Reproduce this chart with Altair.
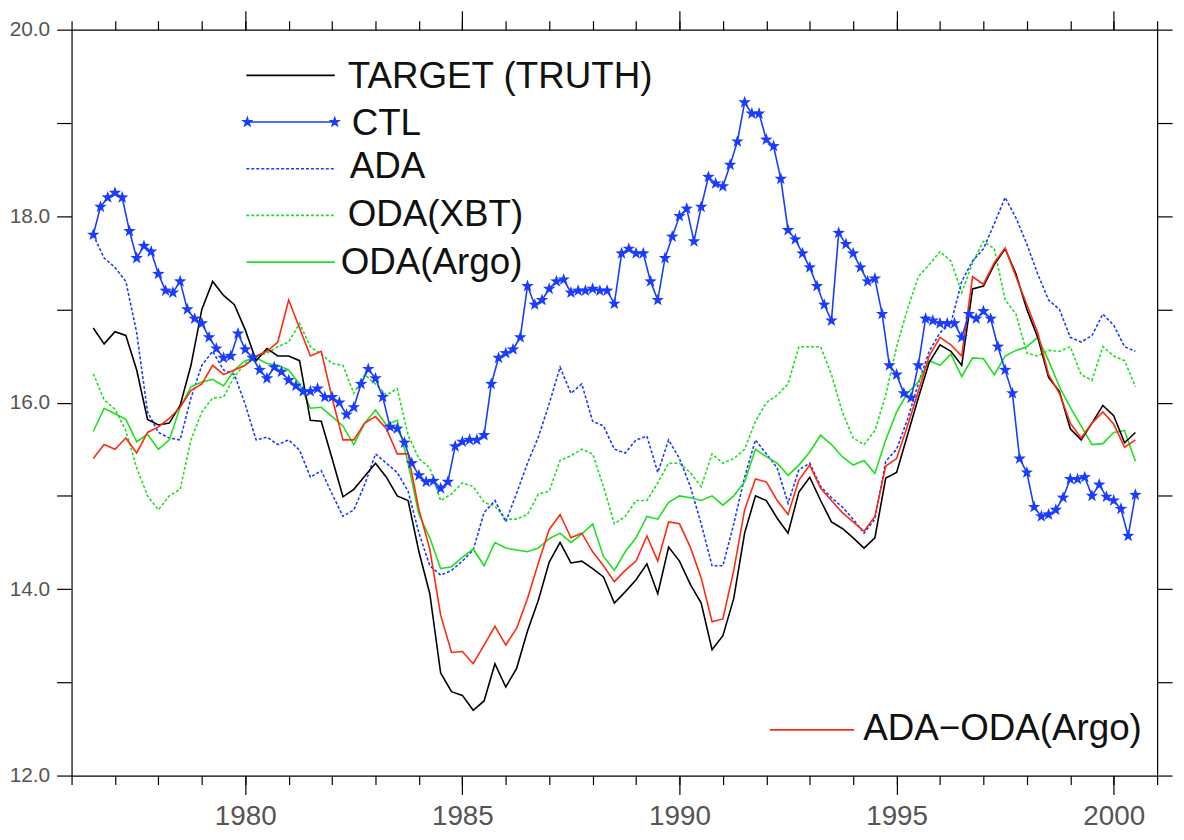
import altair as alt
import pandas as pd

# ---------------- data ----------------
START = 1976.5
quarter_times = [START + 0.25 * i for i in range(97)]   # quarterly grid 1976.5 .. 2000.5
ctl_times = [START + i / 6 for i in range(145)]          # two-monthly grid for CTL

target_truth = [
    16.80, 16.63, 16.76, 16.72, 16.35, 15.82, 15.76, 15.78, 15.97, 16.40,
    17.00, 17.30, 17.15, 17.05, 16.78, 16.45, 16.58, 16.50, 16.50, 16.45,
    15.81, 15.80, 15.40, 14.99, 15.07, 15.21, 15.35, 15.20, 15.00, 14.95,
    14.40, 13.95, 13.10, 12.90, 12.86, 12.70, 12.80, 13.20, 12.95, 13.15,
    13.55, 13.88, 14.29, 14.50, 14.28, 14.30, 14.22, 14.13, 13.85, 13.97,
    14.10, 14.27, 13.95, 14.45, 14.30, 14.05, 13.85, 13.35, 13.50, 13.90,
    14.60, 15.00, 14.95, 14.76, 14.60, 15.04, 15.20, 14.95, 14.72, 14.65,
    14.55, 14.44, 14.55, 15.19, 15.25, 15.65, 16.05, 16.43, 16.62, 16.55,
    16.40, 17.22, 17.25, 17.48, 17.65, 17.38, 17.00, 16.70, 16.27, 16.12,
    15.72, 15.60, 15.78, 15.97, 15.86, 15.57, 15.68,
]

ada = [
    17.80, 17.55, 17.45, 17.30, 16.75, 15.90, 15.68, 15.62, 15.60, 16.05,
    16.40, 16.55, 16.35, 16.30, 15.98, 15.60, 15.63, 15.55, 15.60, 15.49,
    15.20, 15.27, 15.02, 14.78, 14.85, 15.12, 15.45, 15.35, 15.25, 15.05,
    14.60, 14.25, 14.15, 14.20, 14.30, 14.42, 14.82, 14.95, 14.72, 15.03,
    15.35, 15.63, 15.99, 16.38, 16.10, 16.20, 15.80, 15.75, 15.50, 15.46,
    15.60, 15.64, 15.25, 15.60, 15.40, 15.10, 14.70, 14.25, 14.25, 14.70,
    15.20, 15.60, 15.45, 15.30, 14.92, 15.28, 15.35, 15.10, 14.98, 14.88,
    14.75, 14.60, 14.75, 15.37, 15.50, 15.82, 16.20, 16.55, 16.75, 16.85,
    17.30, 17.52, 17.65, 17.92, 18.20, 17.98, 17.70, 17.38, 17.10, 17.00,
    16.70, 16.65, 16.72, 16.95, 16.83, 16.60, 16.55,
]

oda_xbt = [
    16.31, 16.03, 15.93, 15.70, 15.30, 15.00, 14.85, 15.00, 15.07, 15.60,
    15.90, 16.05, 16.06, 16.28, 16.42, 16.50, 16.53, 16.60, 16.65, 16.85,
    16.60, 16.52, 16.42, 16.40, 16.10, 16.30, 16.20, 16.08, 16.15, 15.65,
    15.40, 15.30, 14.95, 15.02, 15.14, 15.10, 14.93, 14.89, 14.75, 14.75,
    14.80, 15.02, 15.05, 15.38, 15.43, 15.50, 15.45, 15.10, 14.70, 14.78,
    14.95, 14.95, 15.14, 15.35, 15.35, 15.25, 15.10, 15.45, 15.35, 15.40,
    15.50, 15.80, 16.00, 16.08, 16.20, 16.60, 16.60, 16.60, 16.30, 15.90,
    15.62, 15.55, 15.70, 16.08, 16.60, 17.00, 17.35, 17.48, 17.62, 17.52,
    17.18, 17.50, 17.73, 17.65, 17.10, 16.95, 16.53, 16.50, 16.56, 16.55,
    16.60, 16.30, 16.24, 16.60, 16.50, 16.45, 16.17,
]

oda_argo = [
    15.69, 15.94, 15.88, 15.82, 15.58, 15.66, 15.50, 15.60, 15.95, 16.17,
    16.22, 16.25, 16.18, 16.35, 16.45, 16.48, 16.42, 16.40, 16.35, 16.20,
    15.94, 15.95, 15.85, 15.75, 15.55, 15.78, 15.92, 15.76, 15.81, 15.35,
    14.80, 14.55, 14.22, 14.24, 14.34, 14.43, 14.25, 14.50, 14.44, 14.42,
    14.40, 14.44, 14.54, 14.60, 14.50, 14.59, 14.70, 14.35, 14.20, 14.40,
    14.55, 14.78, 14.75, 14.93, 15.00, 14.98, 14.95, 15.00, 14.90, 15.00,
    15.15, 15.50, 15.42, 15.35, 15.22, 15.33, 15.47, 15.65, 15.55, 15.42,
    15.33, 15.38, 15.24, 15.60, 15.90, 16.10, 16.22, 16.45, 16.40, 16.52,
    16.28, 16.48, 16.47, 16.30, 16.50, 16.56, 16.60, 16.70, 16.45, 16.17,
    15.95, 15.75, 15.55, 15.56, 15.68, 15.70, 15.37,
]

ada_oda_argo = [
    15.40, 15.55, 15.50, 15.62, 15.46, 15.68, 15.74, 15.83, 15.95, 16.13,
    16.20, 16.40, 16.30, 16.35, 16.40, 16.50, 16.55, 16.65, 17.10, 16.80,
    16.50, 16.55, 16.05, 15.60, 15.60, 15.78, 15.85, 15.72, 15.45, 15.45,
    14.85, 14.43, 13.72, 13.32, 13.33, 13.20, 13.40, 13.60, 13.40, 13.58,
    13.90, 14.28, 14.64, 14.80, 14.55, 14.60, 14.40, 14.25, 14.08, 14.20,
    14.30, 14.57, 14.30, 14.72, 14.70, 14.45, 14.12, 13.65, 13.68, 14.20,
    14.85, 15.18, 15.15, 14.95, 14.80, 15.17, 15.33, 15.08, 14.95, 14.82,
    14.72, 14.62, 14.78, 15.32, 15.40, 15.75, 16.12, 16.50, 16.70, 16.62,
    16.50, 17.35, 17.27, 17.50, 17.66, 17.35, 17.05, 16.75, 16.30, 16.10,
    15.78, 15.62, 15.78, 15.90, 15.77, 15.52, 15.60,
]

ctl = [
    17.80, 18.10, 18.20, 18.25, 18.20, 17.84, 17.55, 17.68, 17.62, 17.38,
    17.20, 17.18, 17.30, 17.00, 16.90, 16.85, 16.70, 16.58, 16.48, 16.50,
    16.74, 16.57, 16.48, 16.35, 16.26, 16.38, 16.33, 16.24, 16.18, 16.12,
    16.12, 16.15, 16.06, 16.06, 16.00, 15.87, 15.95, 16.20, 16.36, 16.26,
    16.06, 15.74, 15.72, 15.57, 15.35, 15.22, 15.15, 15.16, 15.08, 15.15,
    15.53, 15.58, 15.60, 15.60, 15.65, 16.20, 16.48, 16.53, 16.57, 16.70,
    17.25, 17.05, 17.10, 17.22, 17.30, 17.32, 17.18, 17.20, 17.20, 17.22,
    17.20, 17.20, 17.06, 17.60, 17.65, 17.60, 17.60, 17.30, 17.10, 17.55,
    17.78, 18.00, 18.08, 17.73, 18.10, 18.42, 18.35, 18.32, 18.55, 18.80,
    19.22, 19.10, 19.10, 18.82, 18.75, 18.40, 17.85, 17.75, 17.60, 17.45,
    17.25, 17.05, 16.88, 17.82, 17.70, 17.60, 17.45, 17.30, 17.33, 16.95,
    16.40, 16.30, 16.10, 16.05, 16.40, 16.90, 16.88, 16.85, 16.85, 16.85,
    16.70, 16.95, 16.90, 16.98, 16.90, 16.60, 16.35, 16.10, 15.40, 15.25,
    14.88, 14.78, 14.80, 14.85, 14.98, 15.18, 15.18, 15.20, 15.00, 15.12,
    14.99, 14.95, 14.86, 14.57, 15.01,
]

major_years = [1980, 1985, 1990, 1995, 2000]
minor_years = list(range(1976, 2002))
y_ticks = list(range(12, 21))

legend_labels = ["TARGET (TRUTH)", "CTL", "ADA", "ODA(XBT)", "ODA(Argo)", "ADA\u2212ODA(Argo)"]

# ---------------- styling ----------------
FONT = "Liberation Sans"
LABEL_GRAY = "#555555"
BLACK = "#000000"
BLUE = "#1a3cff"
GREEN = "#1ee01e"
RED = "#ff2a10"
LW = 1.6
DOT = [3, 2]
STAR = ("M0,-1L0.235,-0.324L0.951,-0.309L0.38,0.124L0.588,0.809L0,0.4"
        "L-0.588,0.809L-0.38,0.124L-0.951,-0.309L-0.235,-0.324Z")

xs = alt.Scale(domain=[1976, 2001], nice=False, zero=False)
ys = alt.Scale(domain=[12, 20], nice=False, zero=False)


def df(times, vals):
    return pd.DataFrame({"year": times, "temp": vals})


def xenc(axis):
    return alt.X("year:Q", scale=xs, axis=axis)


def yenc(axis):
    return alt.Y("temp:Q", scale=ys, axis=axis)


ax_bottom_major = alt.Axis(orient="bottom", values=major_years, tickSize=19, format="d",
                           labelFontSize=28, labelColor=LABEL_GRAY, labelFont=FONT,
                           labelPadding=8, title=None, grid=False, domain=True)
ax_bottom_minor = alt.Axis(orient="bottom", values=minor_years, tickSize=9, labels=False,
                           title=None, grid=False, domain=False)
ax_top_major = alt.Axis(orient="top", values=major_years, tickSize=19, labels=False,
                        title=None, grid=False, domain=True)
ax_top_minor = alt.Axis(orient="top", values=minor_years, tickSize=9, labels=False,
                        title=None, grid=False, domain=False)
ax_left = alt.Axis(orient="left", values=y_ticks, tickSize=15,
                   labelExpr="datum.value % 2 == 0 ? format(datum.value, '.1f') : ''",
                   labelFontSize=21, labelColor=LABEL_GRAY, labelFont=FONT,
                   labelPadding=7, labelOverlap=False, title=None, grid=False, domain=True)
ax_right = alt.Axis(orient="right", values=y_ticks, tickSize=15, labels=False,
                    title=None, grid=False, domain=True)

xbt_layer = alt.Chart(df(quarter_times, oda_xbt)).mark_line(
    color=GREEN, strokeWidth=LW, strokeDash=DOT).encode(x=xenc(ax_bottom_major), y=yenc(ax_left))
ada_layer = alt.Chart(df(quarter_times, ada)).mark_line(
    color=BLUE, strokeWidth=LW, strokeDash=DOT).encode(x=xenc(ax_bottom_minor), y=yenc(ax_right))
argo_layer = alt.Chart(df(quarter_times, oda_argo)).mark_line(
    color=GREEN, strokeWidth=LW).encode(x=xenc(ax_top_major), y=yenc(None))
target_layer = alt.Chart(df(quarter_times, target_truth)).mark_line(
    color=BLACK, strokeWidth=LW).encode(x=xenc(ax_top_minor), y=yenc(None))
red_layer = alt.Chart(df(quarter_times, ada_oda_argo)).mark_line(
    color=RED, strokeWidth=LW).encode(x=xenc(None), y=yenc(None))
ctl_line = alt.Chart(df(ctl_times, ctl)).mark_line(
    color=BLUE, strokeWidth=LW).encode(x=xenc(None), y=yenc(None))
ctl_pts = alt.Chart(df(ctl_times, ctl)).mark_point(
    shape=STAR, filled=True, color=BLUE, size=175, opacity=1).encode(x=xenc(None), y=yenc(None))


def leg_line(label, x1, x2, y, color, dash=None):
    kw = dict(color=color, strokeWidth=LW)
    if dash:
        kw["strokeDash"] = dash
    return alt.Chart(pd.DataFrame({"label": [label]})).mark_rule(**kw).encode(
        x=alt.value(x1), x2=alt.value(x2), y=alt.value(y))


def leg_text(label, x, y):
    return alt.Chart(pd.DataFrame({"label": [label]})).mark_text(
        align="left", baseline="middle", fontSize=37, font=FONT, color="#111111").encode(
        x=alt.value(x), y=alt.value(y), text="label:N")


def leg_star(label, x, y):
    return alt.Chart(pd.DataFrame({"label": [label]})).mark_point(
        shape=STAR, filled=True, color=BLUE, size=175, opacity=1).encode(
        x=alt.value(x), y=alt.value(y))


legend = [
    leg_line(legend_labels[0], 176, 265, 46, BLACK), leg_text(legend_labels[0], 278, 48),
    leg_line(legend_labels[1], 177, 265, 93, BLUE), leg_star(legend_labels[1], 177, 93),
    leg_star(legend_labels[1], 265, 93), leg_text(legend_labels[1], 282, 95),
    leg_line(legend_labels[2], 176, 265, 140, BLUE, DOT), leg_text(legend_labels[2], 280, 138),
    leg_line(legend_labels[3], 176, 265, 187, GREEN, DOT), leg_text(legend_labels[3], 278, 187),
    leg_line(legend_labels[4], 176, 265, 234, GREEN), leg_text(legend_labels[4], 271, 235),
    leg_line(legend_labels[5], 703, 788, 705, RED), leg_text(legend_labels[5], 797, 704),
]

chart = alt.layer(
    xbt_layer, ada_layer, argo_layer, target_layer, red_layer, ctl_line, ctl_pts, *legend
).resolve_axis(
    x="independent", y="independent"
).properties(
    width=1093, height=751,
    autosize=alt.AutoSizeParams(type="none"),
    padding={"left": 64, "top": 19, "right": 19, "bottom": 54},
).configure_view(
    stroke=None
).configure_axis(
    domainColor=BLACK, tickColor=BLACK, domainWidth=1.2, tickWidth=1.2
)

chart.save("out.html", embed_options={"renderer": "svg", "actions": False})
